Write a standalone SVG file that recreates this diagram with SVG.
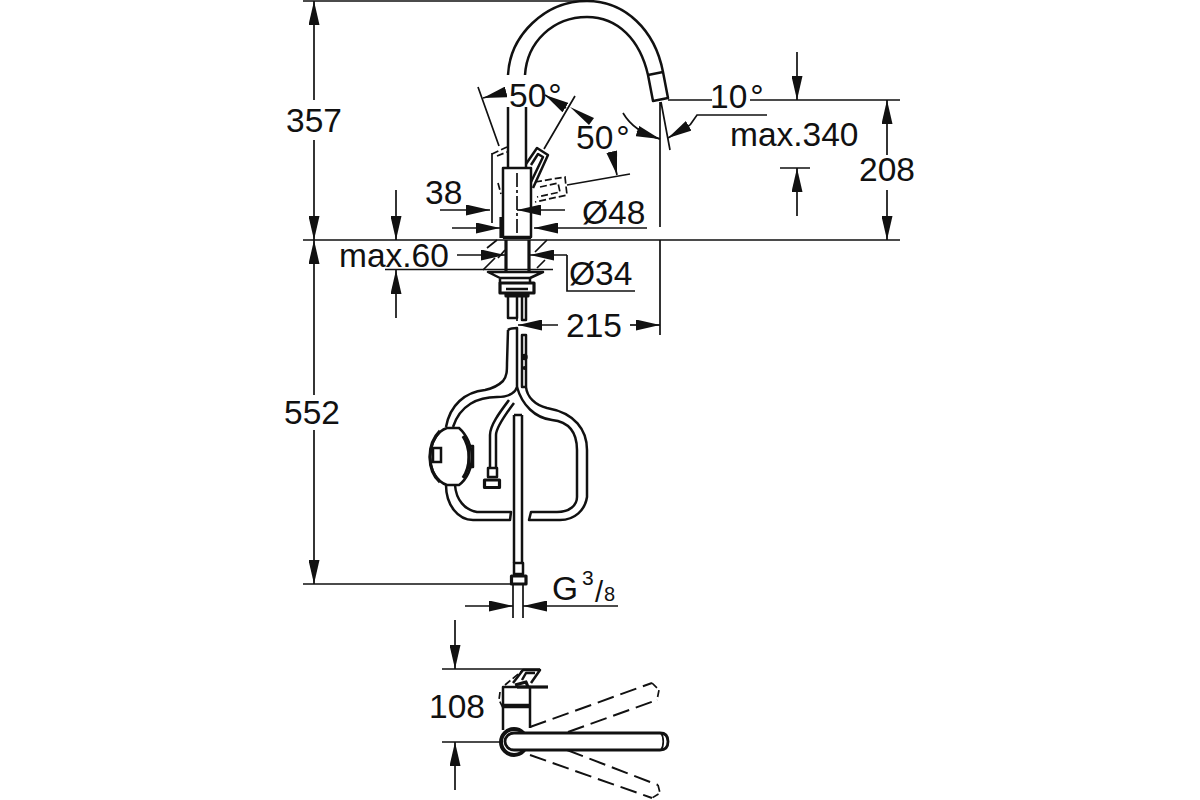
<svg xmlns="http://www.w3.org/2000/svg" width="1200" height="800" viewBox="0 0 1200 800">
<style>
text{font-family:"Liberation Sans",Arial,sans-serif;font-size:33.500px;fill:#111}
.d{fill:none;stroke:#111;stroke-width:1.7}
.a{fill:none;stroke:#111;stroke-width:1.7;marker-end:url(#ar)}
.p{fill:none;stroke:#111;stroke-width:2.500;stroke-linejoin:round}
.t{fill:none;stroke:#111;stroke-width:3.200;stroke-linejoin:round}
.h{fill:none;stroke:#111;stroke-width:1.700;stroke-dasharray:7 3}
.ld{fill:none;stroke:#111;stroke-width:2;stroke-dasharray:17 7}
.w{fill:#111}
</style>
<defs>
<marker id="ar" viewBox="0 0 24 11" refX="24" refY="5.500" markerWidth="24" markerHeight="11" markerUnits="userSpaceOnUse" orient="auto"><path d="M0 0L24 5.500L0 11Z" fill="#111"/></marker>
</defs>
<rect width="1200" height="800" fill="#fff"/>
<g id="faucet">
<path class="p" d="M508 75C510 35 545 1 587 1C625 1 655 30 663 72L668 98L653 101L648 75C640 40 618 17 587 17C553 17 527 42 525 75"/>
<path class="p" d="M648 75L663 72"/>
<path class="p" d="M508 107V168M526 107V168"/>
<rect class="p" x="503" y="168" width="28" height="69"/>
<path class="d" stroke-dasharray="14 3 3 3" d="M517 173V237"/>
<path class="t" d="M501 217V238M503 237.500H531"/>
<path class="p" d="M526 164L537 148L548 155L533 188M531 165L538 154L543 157L531 182"/>
<path class="h" d="M492 154L507 147M497 156L507 152M498 183L501 194"/>
<path class="h" d="M535 182L565 177L567 195L535 202M540 187L558 183L560 192L537 197"/>
<path class="t" d="M506 240V272M529 240V272"/>
<path class="d" d="M487 248L497 240M498 258L505 250M483 270L495 258M535 252L547 240M537 268L545 260"/>
<path class="p" d="M488 272H543L530 278H500ZM500 278V283M530 278V283"/>
<path class="t" d="M500 283H534V293H500ZM506 293H528V296H506Z"/>
<path class="p" d="M506 289H528M508 297V318H517V297M522 297V320H526V297"/>
<path class="d" d="M517 318V321"/>
</g>
<g id="hose">
<path class="p" d="M508 330C510 328 513 328 517 328V387C516 391 511 397 497 397C478 397 460 405 453 427"/>
<path class="p" d="M508 330L507 363C507 371 507 376 503 381C498 386 494 388 485 390C465 392 450 405 446 427"/>
<path class="p" d="M522 335H526V387H522ZM526 387C527 397 535 405 547 408C575 413 587 430 587 450V497C585 510 575 520 560 520H529L531 512H557C570 512 577 505 577 497V450C577 433 570 422 552 420C535 418 522 405 517 387"/>
<circle class="w" cx="524.500" cy="357" r="3.200"/>
<circle class="w" cx="524.500" cy="368" r="2"/>
<path class="p" d="M446 485C446 505 458 520 473 520H510L511 512H477C465 510 456 500 455 485"/>
<path class="p" d="M514 415H522M514 415V563M522 415V563"/>
<path class="p" d="M509 400C500 412 490 425 490 435V468M514 403C505 415 496 428 496 435V468"/>
<path class="p" d="M488 468H497V477H488Z"/>
<path class="t" d="M484.500 480H499.500V487.500H484.500Z"/>
<path fill="#fff" stroke="#111" stroke-width="2.500" d="M447 428H459C467 435 472 447 472 457C472 468 467 479 459 485H447C437 482 430 470 430 457C430 444 437 431 447 428Z"/>
<path class="t" d="M440 431C433 438 430 448 430 457C430 466 433 476 440 482M463 436C467 442 469 449 469 457C469 465 467 472 463 478"/>
<path fill="#fff" stroke="#111" stroke-width="2.500" d="M433 448H441V462H433Z"/>
<path class="p" d="M469 446H473V467H469Z"/>
<path class="p" d="M514 563H523V574H514Z"/>
<path class="t" d="M511.500 576H526V584H511.500Z"/>
<path class="d" d="M513 584V618M523 584V618"/>
</g>
<g id="top-view">
<path class="p" d="M503 687H530V707H503ZM503 707V730M530 707V728M503 705H530"/>
<path class="t" d="M517 687H548"/>
<path class="p" d="M513 683L523 670H540L531 683M522 680L526 673H535"/>
<path class="t" d="M515 685L526 682L528 687"/>
<path class="h" d="M505 685L523 670M500 692L499 700L503 708"/>
<circle cx="514" cy="742" r="13" fill="none" stroke="#111" stroke-width="4"/>
<path d="M514 733H660C666 733 668 737 668 741.500C668 746 666 750 660 750H514C509 750 505 746 505 741.500C505 737 509 733 514 733Z" fill="#fff" stroke="#111" stroke-width="2.800"/>
<path class="d" d="M661 733C664 737 664 746 661 750"/>
<path class="ld" d="M530 727L652 683M568 732L657 700M530 755L652 798M567 750L658 785"/>
<path class="h" d="M652 683L659 690L657 700M658 785L660 793L652 798"/>
</g>
<g id="connectors">
<path class="d" d="M303 1H590M303 240H900M303 584H515M668 100H712M750 100H900M442 669H540M442 742H500M780 168H810"/>
<path class="a" d="M314 100V1"/><path class="a" d="M314 140V240"/>
<path class="a" d="M314 395V240"/><path class="a" d="M314 430V584"/>
<path class="a" d="M887 155V100"/><path class="a" d="M887 190V240"/>
<path class="a" d="M797 52V100"/><path class="a" d="M797 216V168"/>
<path class="d" d="M660 102V227M660 240V335M661 102L670 150"/>
<path class="d" d="M623 113C630 125 642 134 660 139"/>
<path class="a" d="M637 131L660 139"/>
<path class="d" d="M767 115H697L690 125"/>
<path class="a" d="M690 125L668 138"/>
<path class="d" d="M478 87L499 146M544 149L575 96M567 185L630 174M492 153V223"/>
<path class="a" d="M506 92L483 98"/>
<path class="a" d="M566 108L545 95"/>
<path class="w" d="M570 107L594 118L589 125Z"/>
<path class="a" d="M612 153L617 175"/>
<path class="a" d="M440 210H490"/><path class="a" d="M565 210H517"/>
<path class="a" d="M452 228H500"/><path class="a" d="M647 228H534"/>
<path class="a" d="M457 255H505"/><path class="a" d="M567 255H530"/>
<path class="d" d="M567 255V291H635M385 269.500H553"/>
<path class="a" d="M396 190V240"/><path class="a" d="M396 318V270"/>
<path class="a" d="M558 325H518"/><path class="a" d="M630 325H660"/>
<path class="a" d="M465 606H513"/><path class="a" d="M618 606H523"/>
<path class="a" d="M455 620V669"/><path class="a" d="M455 790V742"/>
</g>
<g id="labels">
<text x="286" y="132">357</text>
<text x="284" y="424">552</text>
<text x="859" y="181">208</text>
<text x="509" y="107">50<tspan dx="2">°</tspan></text>
<text x="576" y="149">50<tspan dx="3">°</tspan></text>
<text x="710" y="108">10<tspan dx="3">°</tspan></text>
<text x="730" y="146">max.340</text>
<text x="425" y="204">38</text>
<text x="582" y="224">Ø48</text>
<text x="339" y="267">max.60</text>
<text x="569" y="285">Ø34</text>
<text x="566" y="337">215</text>
<text x="552" y="600">G</text>
<text x="582" y="585" style="font-size:21px">3</text>
<text x="595" y="602" style="font-size:29px">/</text>
<text x="604" y="601" style="font-size:20px">8</text>
<text x="429" y="718">108</text>
</g>
</svg>
